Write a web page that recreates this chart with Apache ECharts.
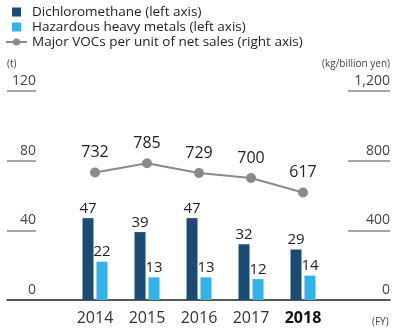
<!DOCTYPE html>
<html><head><meta charset="utf-8">
<script src="https://cdn.jsdelivr.net/npm/echarts@6/dist/echarts.min.js"></script>
<style>html,body{margin:0;padding:0;background:#fff}#c{width:396px;height:330px}</style>
</head><body><div id="c"></div>
<script>
var years = ['2014','2015','2016','2017','2018'];
var dichloromethane = [47, 39, 47, 32, 29];
var heavyMetals = [22, 13, 13, 12, 14];
var vocs = [732, 785, 729, 700, 617];
var leftTicks = [0, 40, 80, 120];
var rightTicks = [0, 400, 800, 1200];

var FONT = '"Open Sans", sans-serif';
var chart = echarts.init(document.getElementById('c'));
var grid = {top: 91, bottom: 30};
chart.setOption({
  animation: false,
  textStyle: {fontFamily: FONT},
  legend: {
    orient: 'vertical', left: 5, top: 5, padding: 0, itemGap: 1,
    itemWidth: 21, itemHeight: 9,
    textStyle: {fontFamily: FONT, fontSize: 13.5, lineHeight: 14, color: '#222'},
    data: [
      {name: 'Dichloromethane (left axis)', icon: 'path://M0,0H1V1H0Z'},
      {name: 'Hazardous heavy metals (left axis)', icon: 'path://M0,0H1V1H0Z'},
      {name: 'Major VOCs per unit of net sales (right axis)'}
    ]
  },
  grid: [
    {left: 69, right: 67, top: grid.top, bottom: grid.bottom},
    {left: 7, right: 6, top: grid.top, bottom: grid.bottom}
  ],
  xAxis: [
    {type: 'category', gridIndex: 0, data: years,
     axisLine: {show: false}, axisTick: {show: false},
     axisLabel: {interval: 0, fontFamily: FONT, fontSize: 16, color: '#333', margin: 10,
       formatter: function (v) { return v === '2018' ? '{b|' + v + '}' : v; },
       rich: {b: {fontFamily: FONT, fontSize: 16, fontWeight: 'bold', color: '#111'}}}},
    {type: 'category', gridIndex: 1, data: [''],
     axisLine: {show: true, lineStyle: {color: '#222', width: 1.5}},
     axisTick: {show: false}, axisLabel: {show: false},
     name: '(FY)', nameLocation: 'end', nameGap: -18,
     nameTextStyle: {fontFamily: FONT, fontSize: 10, color: '#444', verticalAlign: 'top', padding: [17, 0, 0, 0]}}
  ],
  yAxis: [
    {type: 'value', gridIndex: 0, position: 'left', offset: 62,
     min: leftTicks[0], max: leftTicks[leftTicks.length - 1], interval: leftTicks[1] - leftTicks[0],
     axisLine: {show: false}, splitLine: {show: false},
     axisTick: {show: true, inside: true, length: 29, customValues: leftTicks.slice(1), lineStyle: {color: '#888', width: 1.5}},
     axisLabel: {inside: true, align: 'right', margin: 29, verticalAlign: 'bottom', padding: [0, 0, 3, 0],
       fontFamily: FONT, fontSize: 14, color: '#444', showMinLabel: true},
     name: '(t)', nameLocation: 'end', nameGap: 22,
     nameTextStyle: {fontFamily: FONT, fontSize: 10, color: '#444', align: 'left', padding: [0, 0, 0, 0]}},
    {type: 'value', gridIndex: 0, position: 'right', offset: 61,
     min: rightTicks[0], max: rightTicks[rightTicks.length - 1], interval: rightTicks[1] - rightTicks[0],
     axisLine: {show: false}, splitLine: {show: false},
     axisTick: {show: true, inside: true, length: 42, customValues: rightTicks.slice(1), lineStyle: {color: '#888', width: 1.5}},
     axisLabel: {inside: true, align: 'right', margin: 0, verticalAlign: 'bottom', padding: [0, 0, 3, 0],
       fontFamily: FONT, fontSize: 14, color: '#444',
       formatter: function (v) { return v.toLocaleString('en-US'); }},
     name: '(kg/billion yen)', nameLocation: 'end', nameGap: 22,
     nameTextStyle: {fontFamily: FONT, fontSize: 10, color: '#444', align: 'right'}},
    {type: 'value', gridIndex: 1, show: false, min: 0, max: 120}
  ],
  series: [
    {name: 'Dichloromethane (left axis)', type: 'bar', xAxisIndex: 0, yAxisIndex: 0,
     data: dichloromethane, barWidth: 11, barGap: '27%',
     itemStyle: {color: '#1b4a72'},
     label: {show: true, position: 'top', distance: 2, fontFamily: FONT, fontSize: 15, color: '#222'}},
    {name: 'Hazardous heavy metals (left axis)', type: 'bar', xAxisIndex: 0, yAxisIndex: 0,
     data: heavyMetals, barWidth: 11, barGap: '27%',
     itemStyle: {color: '#34b1e6'},
     label: {show: true, position: 'top', distance: 2, fontFamily: FONT, fontSize: 15, color: '#222'}},
    {name: 'Major VOCs per unit of net sales (right axis)', type: 'line', xAxisIndex: 0, yAxisIndex: 1,
     data: vocs, symbol: 'circle', symbolSize: 10,
     lineStyle: {color: '#8a8a8a', width: 2}, itemStyle: {color: '#8a8a8a'},
     label: {show: true, position: 'top', distance: 7, fontFamily: FONT, fontSize: 16, color: '#222'}}
  ]
});
</script></body></html>
